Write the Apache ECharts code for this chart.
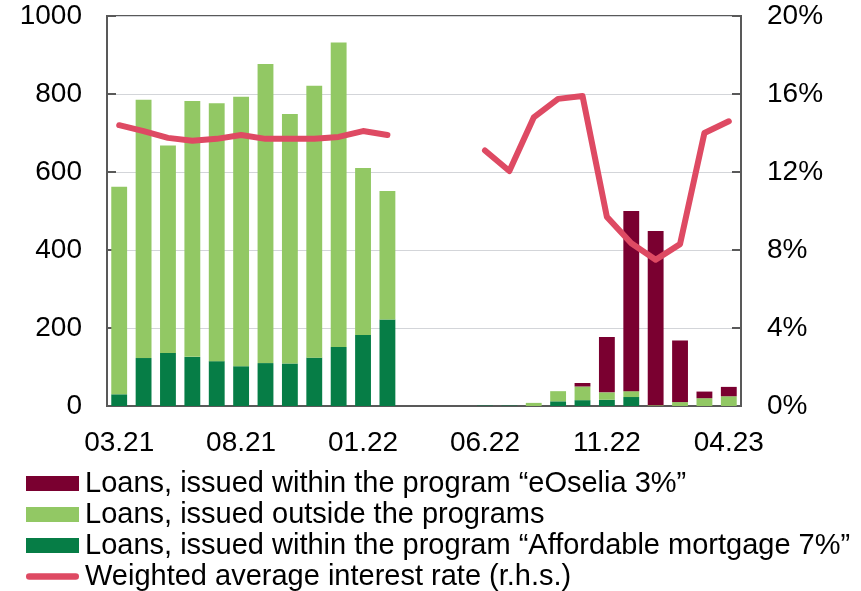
<!DOCTYPE html>
<html>
<head>
<meta charset="utf-8">
<script src="https://cdn.jsdelivr.net/npm/echarts@6/dist/echarts.min.js"></script>
<style>
html,body{margin:0;padding:0;background:#fff;}
#c{width:861px;height:591px;}
</style>
</head>
<body>
<div id="c"></div>
<script>
const categories = ['03.21','04.21','05.21','06.21','07.21','08.21','09.21','10.21','11.21','12.21','01.22','02.22','03.22','04.22','05.22','06.22','07.22','08.22','09.22','10.22','11.22','12.22','01.23','02.23','03.23','04.23'];
const affordable = [30,123,136,126,115,102,110,109,124,151,182,222,null,null,null,1,1,0,12,15,16,23,0,0,0,0];
const outside = [532,662,532,656,661,691,767,640,697,781,428,329,null,null,null,0,0,8,26,35,19,15,2,10,20,25];
const eOselia = [0,0,0,0,0,0,0,0,0,0,0,0,null,null,null,0,0,0,0,9,142,462,447,158,17,24];
const rate = [14.4,14.1,13.75,13.6,13.7,13.9,13.7,13.7,13.7,13.8,14.1,13.9,null,null,null,13.1,12.05,14.8,15.75,15.9,9.7,8.35,7.5,8.3,14.0,14.6];
const leftTicks = {min:0,max:1000,interval:200};
const rightTicks = {min:0,max:20,interval:4};

const names = {
  eo: 'Loans, issued within the program \u201ceOselia 3%\u201d',
  out: 'Loans, issued outside the programs',
  aff: 'Loans, issued within the program \u201cAffordable mortgage 7%\u201d',
  rate: 'Weighted average interest rate (r.h.s.)'
};
const FONT = '"Liberation Sans", Arial, sans-serif';
const axisCol = '#595959';
const lineIcon = 'path://M3.5,0 L52.5,0 A3.5,3.5 0 0 1 52.5,7 L3.5,7 A3.5,3.5 0 0 1 3.5,0 Z';

const chart = echarts.init(document.getElementById('c'), null, {renderer:'canvas'});
chart.setOption({
  animation:false,
  textStyle:{fontFamily:FONT},
  grid:{left:107,right:120,top:16,bottom:185,show:true,borderColor:axisCol,borderWidth:2,containLabel:false},
  legend:{
    orient:'vertical',left:26,top:468,height:200,padding:0,itemWidth:53,itemHeight:15,itemGap:0,
    symbolKeepAspect:true,
    textStyle:{fontSize:29,lineHeight:31,color:'#000',fontFamily:FONT,padding:[0,0,0,1]},
    data:[
      {name:names.eo,icon:'rect'},
      {name:names.out,icon:'rect'},
      {name:names.aff,icon:'rect'},
      {name:names.rate,icon:lineIcon}
    ]
  },
  xAxis:{
    type:'category',data:categories,boundaryGap:true,
    axisLine:{lineStyle:{color:axisCol,width:2}},
    axisTick:{inside:true,interval:4,length:8,lineStyle:{color:axisCol,width:2}},
    axisLabel:{interval:4,fontSize:28,color:'#000',margin:23,fontFamily:FONT},
    splitLine:{show:false}
  },
  yAxis:[
    {type:'value',min:leftTicks.min,max:leftTicks.max,interval:leftTicks.interval,
     axisLine:{show:true,lineStyle:{color:axisCol,width:2}},
     axisTick:{show:true,inside:true,length:9,lineStyle:{color:axisCol,width:2}},
     axisLabel:{fontSize:28,color:'#000',margin:25,fontFamily:FONT,formatter:function(v){return String(v);}},
     splitLine:{show:true,lineStyle:{color:'#D3D5D9',width:1}}},
    {type:'value',position:'right',min:rightTicks.min,max:rightTicks.max,interval:rightTicks.interval,
     axisLine:{show:true,lineStyle:{color:axisCol,width:2}},
     axisTick:{show:true,inside:true,length:9,lineStyle:{color:axisCol,width:2}},
     axisLabel:{fontSize:28,color:'#000',margin:26,formatter:'{value}%',fontFamily:FONT},
     splitLine:{show:false}}
  ],
  series:[
    {name:names.aff,type:'bar',stack:'a',data:affordable,barCategoryGap:'35%',itemStyle:{color:'#067D46'}},
    {name:names.out,type:'bar',stack:'a',data:outside,itemStyle:{color:'#92C864'}},
    {name:names.eo,type:'bar',stack:'a',data:eOselia,itemStyle:{color:'#7A0030'}},
    {name:names.rate,type:'line',yAxisIndex:1,data:rate,symbol:'none',connectNulls:false,z:5,
     lineStyle:{color:'#DE4A63',width:6,cap:'round',join:'round'},itemStyle:{color:'#DE4A63'}}
  ]
});
</script>
</body>
</html>
